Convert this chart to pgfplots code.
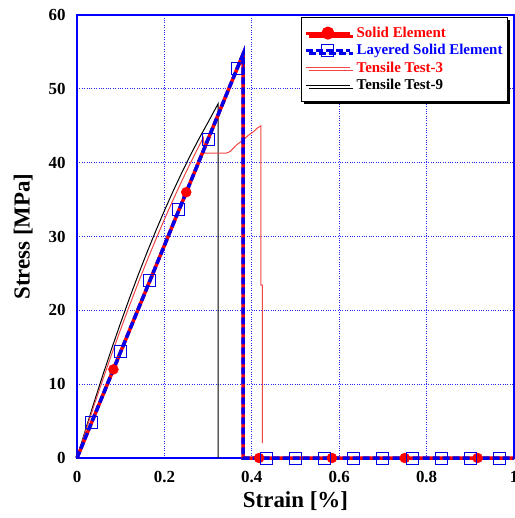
\documentclass[border=0pt]{standalone}
\usepackage{fontspec}
\setmainfont{Liberation Serif}
\usepackage{pgfplots}
\pgfplotsset{compat=1.18}
\usetikzlibrary{shadows}

\definecolor{testred}{RGB}{240,70,70}
\definecolor{elblue}{RGB}{0,0,235}

\begin{document}
\begin{tikzpicture}
\begin{axis}[
    scale only axis,
    width=437bp, height=443bp,
    xmin=0, xmax=1, ymin=0, ymax=60,
    xtick={0,0.2,0.4,0.6,0.8,1},
    ytick={0,10,20,30,40,50,60},
    clip=false,
    axis line style={blue, line width=1.5bp},
    grid=major,
    grid style={blue!85, dotted, line width=0.9bp},
    major tick length=0pt,
    /pgf/number format/assume math mode=true,
    ticklabel style={font=\bfseries\fontsize{17}{17}\selectfont},
    xticklabel style={yshift=-10bp},
    yticklabel style={xshift=-8bp},
    xlabel={Strain [\%]},
    ylabel={Stress [MPa]},
    label style={font=\bfseries\fontsize{23}{23}\selectfont},
    xlabel style={yshift=-2bp},
    ylabel style={yshift=9bp},
    legend cell align=left,
    legend style={at={(0.986,0.996)}, anchor=north east,
        draw=black, line width=0.8bp, fill=white,
        drop shadow={shadow xshift=3bp, shadow yshift=-3bp, fill=black, opacity=1},
        font=\bfseries\fontsize{15}{15}\selectfont,
        row sep=1.5bp, inner xsep=3bp, inner ysep=8bp},
    legend image code/.code={
        \draw[mark repeat=2, mark phase=2, #1] plot coordinates {(0bp,0bp) (22bp,0bp) (44bp,0bp)};
        \path (47bp,0bp);
    },
]
% legend entries
\addlegendimage{red, line width=3bp, mark=*, mark size=5bp, mark options={solid}}
\addlegendentry{\textcolor{red}{Solid Element}}
\addlegendimage{elblue, line width=3.5bp, dash pattern=on 7bp off 3bp, mark=square, mark size=6bp, mark options={solid, line width=1bp}}
\addlegendentry{\textcolor{blue}{Layered Solid Element}}
\addlegendimage{testred, line width=1bp}
\addlegendentry{\textcolor{red}{Tensile Test-3}}
\addlegendimage{black, line width=1bp}
\addlegendentry{Tensile Test-9}

% Tensile Test-9
\addplot[black, line width=1bp, forget plot] coordinates {
    (0,0) (0.02,3.92) (0.04,7.72) (0.06,11.39) (0.08,14.93) (0.10,18.34)
    (0.12,21.63) (0.14,24.79) (0.16,27.82) (0.18,30.72) (0.20,33.50)
    (0.22,36.15) (0.24,38.67) (0.26,41.07) (0.28,43.34) (0.30,45.48)
    (0.323,48.0) (0.323,0)
};
% Tensile Test-3
\addplot[testred, line width=1bp, forget plot] coordinates {
    (0,0) (0.02,3.70) (0.04,7.29) (0.06,10.78) (0.08,14.17) (0.10,17.45)
    (0.12,20.63) (0.14,23.71) (0.16,26.68) (0.18,29.55) (0.20,32.32)
    (0.22,34.98) (0.24,37.54) (0.26,40.00) (0.28,42.36) (0.289,43.4)
    (0.292,41.3) (0.342,41.3) (0.35,41.5) (0.357,41.9) (0.365,42.4)
    (0.381,43.1) (0.392,43.7) (0.404,44.2) (0.413,44.7) (0.421,45.0)
    (0.421,23.4) (0.424,23.4) (0.424,2.0)
};
% Solid Element
\addplot[red, line width=3.5bp, forget plot] coordinates {
    (0,0) (0.38,54.7) (0.38,0) (1,0)
};
% Layered Solid Element
\addplot[elblue, line width=3.5bp, dash pattern=on 7bp off 3bp, forget plot] coordinates {
    (0,0) (0.38,54.7) (0.38,0) (1,0)
};
% markers
\addplot[only marks, red, mark=*, mark size=5bp, forget plot] coordinates {
    (0.0833,12.0) (0.25,36.0) (0.4167,0) (0.5833,0) (0.75,0) (0.9167,0)
};
\addplot[only marks, elblue, mark=square, mark size=6bp, mark options={line width=1bp}, forget plot] coordinates {
    (0.0333,4.8) (0.1,14.4) (0.1667,24.0) (0.2333,33.6) (0.3,43.2) (0.3667,52.8)
    (0.4333,0) (0.5,0) (0.5667,0) (0.6333,0) (0.7,0) (0.7667,0) (0.8333,0) (0.9,0) (0.9667,0)
};
\end{axis}
\pgfresetboundingbox
\path[use as bounding box] (-77bp,-60bp) rectangle (438bp,458bp);
\end{tikzpicture}
\end{document}
